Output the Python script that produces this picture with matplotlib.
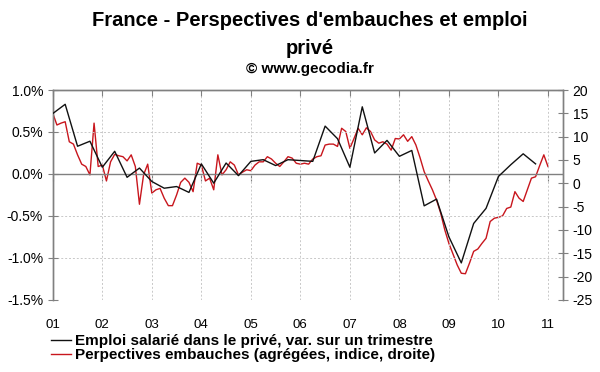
import matplotlib.pyplot as plt
import numpy as np
from matplotlib.ticker import FuncFormatter, MultipleLocator
from matplotlib.lines import Line2D

plt.rcParams['font.family'] = ['Liberation Sans', 'DejaVu Sans']
plt.rcParams['axes.unicode_minus'] = False

# employment, quarterly change in %, from Q4 2000 (placed at 2001.0) to Q3 2010
emploi = [0.72, 0.83, 0.33, 0.39, 0.08, 0.27, -0.04, 0.07, -0.09, -0.17,
          -0.15, -0.22, 0.12, -0.11, 0.13, -0.02, 0.15, 0.17, 0.10, 0.17,
          0.16, 0.15, 0.57, 0.42, 0.08, 0.80, 0.25, 0.40, 0.21, 0.28,
          -0.38, -0.30, -0.75, -1.06, -0.59, -0.41, -0.03, 0.11, 0.24, 0.12]

# hiring prospects index (right axis), monthly from Jan 2001 to Jan 2011
embauches = [15.0, 12.5, 12.9, 13.2, 8.9, 8.4, 6.1, 4.1, 3.6, 1.8,
             12.9, 3.6, 3.9, 0.5, 4.6, 6.2, 5.9, 5.7, 4.8, 6.1,
             3.6, -4.5, 1.8, 4.1, -2.1, -1.4, -1.1, -3.2, -4.8, -4.8,
             -2.5, 0.2, 1.1, 0.2, -1.8, 4.3, 3.9, 0.5, 1.1, -1.4,
             6.1, 1.8, 2.9, 4.6, 3.9, 1.8, 2.4, 2.9, 2.7, 3.9,
             4.6, 4.6, 5.7, 5.2, 4.3, 3.6, 4.6, 5.7, 5.4, 4.3,
             4.1, 4.3, 4.1, 5.2, 5.7, 5.9, 8.2, 8.4, 8.4, 7.9,
             11.8, 11.1, 7.5, 9.6, 11.8, 10.4, 11.9, 11.1, 9.3, 8.6,
             8.9, 8.4, 7.1, 9.6, 9.5, 10.4, 9.0, 10.0, 8.2, 5.5,
             2.5, 0.5, -1.4, -3.6, -6.4, -10.0, -12.9, -15.2, -17.5, -19.3,
             -19.4, -17.1, -14.6, -14.1, -12.9, -11.8, -8.2, -7.5, -7.3, -7.0,
             -5.4, -5.1, -1.8, -3.2, -3.9, -1.4, 1.1, 1.4, 3.8, 6.1,
             3.6]

years = list(range(2001, 2012))
year_labels = ['01', '02', '03', '04', '05', '06', '07', '08', '09', '10', '11']

x_emploi = 2001 + 0.25 * np.arange(len(emploi))
x_emb = 2001 + np.arange(len(embauches)) / 12.0

fig = plt.figure(figsize=(6, 3.72), dpi=100)
ax = fig.add_axes([0.088, 0.194, 0.85, 0.564])
ax2 = ax.twinx()

gray = '#808080'
black = '#111111'
red = '#c8161d'

ax.plot(x_emploi, emploi, color=black, lw=1.0, zorder=3)
ax2.plot(x_emb, embauches, color=red, lw=1.0)
ax.set_zorder(ax2.get_zorder() + 1)
ax.patch.set_visible(False)

ax.set_xlim(2001, 2011.3)
ax.set_ylim(-1.5, 1.0)
ax2.set_ylim(-25, 20)

ax.yaxis.set_major_locator(MultipleLocator(0.5))
ax.yaxis.set_major_formatter(FuncFormatter(lambda v, p: f"{v:.1f}%"))
ax2.yaxis.set_major_locator(MultipleLocator(5))
ax2.yaxis.set_major_formatter(FuncFormatter(lambda v, p: f"{v:.0f}"))

ax.set_xticks(years)
ax.set_xticklabels(year_labels)
ax.tick_params(axis='x', bottom=False, top=True, direction='in', length=4,
               color=gray, labelsize=9.5, pad=14)
ax.tick_params(axis='y', direction='inout', length=7, color=gray, labelsize=10)
ax2.tick_params(axis='y', direction='inout', length=7, color=gray, labelsize=10)

ax.grid(True, color='#c8c8c8', ls=(0, (2, 2)), lw=0.7)

for a in (ax, ax2):
    a.spines['bottom'].set_visible(False)
    for s in ('top', 'left', 'right'):
        a.spines[s].set_color(gray)
        a.spines[s].set_linewidth(1.0)

# zero line with year ticks pointing down
ax.axhline(0, color=gray, lw=1.0, zorder=2)
zero = ax.secondary_xaxis(1.5 / 2.5)
zero.set_xticks(years)
zero.tick_params(direction='in', length=5, color=gray, labeltop=False, labelbottom=False)
for s in zero.spines.values():
    s.set_visible(False)

fig.text(0.517, 0.945, "France - Perspectives d'embauches et emploi", ha='center',
         va='center', fontsize=14.5, fontweight='bold')
fig.text(0.517, 0.87, "privé", ha='center', va='center', fontsize=14.5, fontweight='bold')
fig.text(0.517, 0.815, "© www.gecodia.fr", ha='center', va='center', fontsize=11,
         fontweight='bold')

handles = [Line2D([], [], color=black, lw=1.0), Line2D([], [], color=red, lw=1.0)]
labels = ["Emploi salarié dans le privé, var. sur un trimestre",
          "Perpectives embauches (agrégées, indice, droite)"]
fig.legend(handles, labels, loc='lower left', bbox_to_anchor=(0.072, 0.006),
           frameon=False, handlelength=1.3, handletextpad=0.3, labelspacing=0.0,
           borderpad=0.0, prop={'weight': 'bold', 'size': 11})

fig.savefig('out.png', dpi=100)
